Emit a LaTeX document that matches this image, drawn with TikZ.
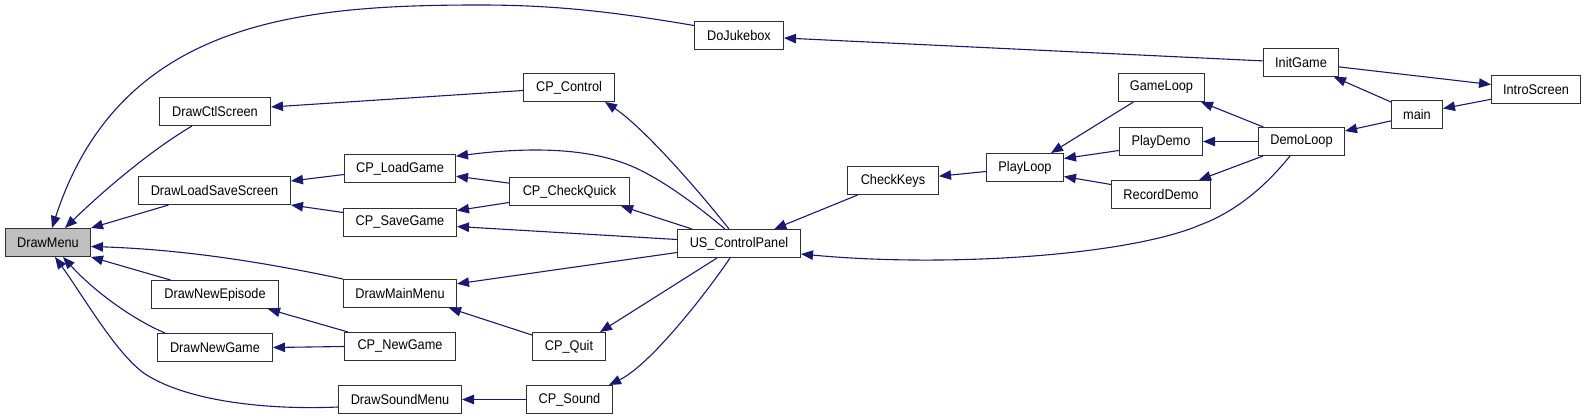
\documentclass[tikz,border=0pt]{standalone}
\usepackage{fontspec}
\setmainfont[FakeStretch=0.91]{Liberation Sans}
\usetikzlibrary{arrows.meta}
\definecolor{edgeblue}{HTML}{191970}
\definecolor{boxline}{HTML}{303030}
\definecolor{hilite}{HTML}{BFBFBF}
\tikzset{
  fnbox/.style={draw=boxline, fill=white, line width=1pt, inner sep=0pt,
    minimum height=28pt, font=\fontsize{14}{16}\selectfont},
  fnhl/.style={fnbox, fill=hilite},
  edge/.style={draw=edgeblue, line width=1.1pt,
    -{Triangle[length=12pt,width=9.5pt]}},
}
\begin{document}
\begin{tikzpicture}[x=1pt,y=-1pt]
\useasboundingbox (0,0) rectangle (1587,420);
% nodes
\node[fnhl, minimum width=85pt] (DrawMenu) at (48,242.5) {DrawMenu};
\node[fnbox, minimum width=111pt] (DrawCtlScreen) at (215,111.5) {DrawCtlScreen};
\node[fnbox, minimum width=152pt] (DrawLoadSaveScreen) at (214.5,190.5) {DrawLoadSaveScreen};
\node[fnbox, minimum width=127pt] (DrawNewEpisode) at (215,294.5) {DrawNewEpisode};
\node[fnbox, minimum width=115pt] (DrawNewGame) at (215,347.5) {DrawNewGame};
\node[fnbox, minimum width=111pt] (CP_LoadGame) at (400,168.5) {CP\_LoadGame};
\node[fnbox, minimum width=113pt] (CP_SaveGame) at (400,222.5) {CP\_SaveGame};
\node[fnbox, minimum width=113pt] (DrawMainMenu) at (400,293.5) {DrawMainMenu};
\node[fnbox, minimum width=111pt] (CP_NewGame) at (400,346.5) {CP\_NewGame};
\node[fnbox, minimum width=123pt] (DrawSoundMenu) at (400,399.5) {DrawSoundMenu};
\node[fnbox, minimum width=89pt] (DoJukebox) at (739,35.5) {DoJukebox};
\node[fnbox, minimum width=91pt] (CP_Control) at (569,87.5) {CP\_Control};
\node[fnbox, minimum width=120pt] (CP_CheckQuick) at (569.5,191.5) {CP\_CheckQuick};
\node[fnbox, minimum width=73pt] (CP_Quit) at (569,346.5) {CP\_Quit};
\node[fnbox, minimum width=86pt] (CP_Sound) at (569.5,399.5) {CP\_Sound};
\node[fnbox, minimum width=123pt] (US_ControlPanel) at (739,243.5) {US\_ControlPanel};
\node[fnbox, minimum width=91pt] (CheckKeys) at (893,180.5) {CheckKeys};
\node[fnbox, minimum width=77pt] (PlayLoop) at (1025,167.5) {PlayLoop};
\node[fnbox, minimum width=86pt] (GameLoop) at (1161.5,87.5) {GameLoop};
\node[fnbox, minimum width=83pt] (PlayDemo) at (1161,141.5) {PlayDemo};
\node[fnbox, minimum width=99pt] (RecordDemo) at (1161,194.5) {RecordDemo};
\node[fnbox, minimum width=86pt] (DemoLoop) at (1301.5,141.5) {DemoLoop};
\node[fnbox, minimum width=75pt] (InitGame) at (1301,62.5) {InitGame};
\node[fnbox, minimum width=51pt] (main) at (1417,114.5) {main};
\node[fnbox, minimum width=89pt] (IntroScreen) at (1536,89.5) {IntroScreen};
% edges into DrawMenu
\draw[edge] ([yshift=10pt]DoJukebox.west) .. controls (620,13) and (560,5) .. (480,5)
  .. controls (300,5) and (120,20) .. ([xshift=4pt]DrawMenu.north);
\draw[edge] ([xshift=-23pt]DrawCtlScreen.south) .. controls (148,152) and (100,194) .. ([xshift=17pt]DrawMenu.north);
\draw[edge] ([xshift=-46pt]DrawLoadSaveScreen.south) -- (DrawMenu.north east);
\draw[edge] (DrawMainMenu.north west) .. controls (290,268) and (200,250) .. ([yshift=-4pt]DrawMenu.east);
\draw[edge] ([xshift=-44.5pt]DrawNewEpisode.north) -- (DrawMenu.south east);
\draw[edge] ([xshift=-50pt]DrawNewGame.north) .. controls (130,318) and (92.7,289.7) .. ([xshift=15pt]DrawMenu.south);
\draw[edge] ([yshift=-7.5pt]DrawSoundMenu.west) .. controls (270,410) and (190,402) .. (146.7,375)
  .. controls (118,357) and (82.6,295) .. ([xshift=7pt]DrawMenu.south);
% second column
\draw[edge] ([yshift=-3pt]CP_Control.west) -- ([yshift=4.5pt]DrawCtlScreen.east);
\draw[edge] ([yshift=-6pt]CP_LoadGame.west) -- ([yshift=9.5pt]DrawLoadSaveScreen.east);
\draw[edge] ([yshift=10pt]CP_SaveGame.west) -- (DrawLoadSaveScreen.south east);
\draw[edge] ([yshift=8.4pt]CP_CheckQuick.west) -- ([yshift=-7.7pt]CP_LoadGame.east);
\draw[edge] ([yshift=-11pt]CP_CheckQuick.west) -- ([yshift=12pt]CP_SaveGame.east);
\draw[edge] ([xshift=4pt]CP_NewGame.north west) -- ([xshift=-11pt]DrawNewEpisode.south east);
\draw[edge] (CP_NewGame.west) -- (DrawNewGame.east);
\draw[edge] ([yshift=-3pt]CP_Quit.north west) -- ([xshift=-8pt]DrawMainMenu.south east);
\draw[edge] (CP_Sound.west) -- (DrawSoundMenu.east);
% from US_ControlPanel
\draw[edge] ([xshift=-14pt]US_ControlPanel.north) .. controls (700,208) and (670,185) .. (640,170)
  .. controls (590,145) and (520,148) .. ([yshift=12.3pt]CP_LoadGame.east);
\draw[edge] ([yshift=4pt]US_ControlPanel.west) -- ([yshift=-4pt]CP_SaveGame.east);
\draw[edge] ([yshift=-9pt]US_ControlPanel.west) -- ([yshift=9.7pt]DrawMainMenu.east);
\draw[edge] ([xshift=-10pt]US_ControlPanel.north) .. controls (690,180) and (640,125) .. ([xshift=-10pt]CP_Control.south east);
\draw[edge] ([xshift=-47pt]US_ControlPanel.north) -- ([xshift=-9pt]CP_CheckQuick.south east);
\draw[edge] ([xshift=-22pt]US_ControlPanel.south) -- ([xshift=-6pt]CP_Quit.north east);
\draw[edge] ([xshift=-9pt]US_ControlPanel.south) .. controls (705,295) and (650,365) .. ([xshift=-4pt]CP_Sound.north east);
% right part
\draw[edge] ([xshift=10.6pt]CheckKeys.south west) -- ([xshift=-26.7pt]US_ControlPanel.north east);
\draw[edge] ([xshift=-11.5pt]DemoLoop.south) .. controls (1265,187) and (1235,212) .. (1200,225)
  .. controls (1130,255) and (950,268) .. ([yshift=-10.5pt]US_ControlPanel.east);
\draw[edge] ([yshift=-4pt]PlayLoop.west) -- ([yshift=4.3pt]CheckKeys.east);
\draw[edge] ([xshift=15.4pt]GameLoop.south west) -- ([xshift=-13pt]PlayLoop.north east);
\draw[edge] ([yshift=-9pt]PlayDemo.west) -- ([yshift=9pt]PlayLoop.east);
\draw[edge] ([yshift=10pt]RecordDemo.west) -- ([yshift=-9pt]PlayLoop.east);
\draw[edge] ([xshift=5.3pt]DemoLoop.north west) -- ([xshift=-4pt]GameLoop.south east);
\draw[edge] (DemoLoop.west) -- (PlayDemo.east);
\draw[edge] ([xshift=5pt]DemoLoop.south west) -- ([xshift=-12pt]RecordDemo.north east);
\draw[edge] ([yshift=1.6pt]InitGame.west) -- ([yshift=-2.5pt]DoJukebox.east);
\draw[edge] ([yshift=-2pt]main.north west) -- ([xshift=-5pt]InitGame.south east);
\draw[edge] ([yshift=-6.4pt]main.west) -- ([yshift=-4pt]DemoLoop.north east);
\draw[edge] ([yshift=-4.4pt]InitGame.east) -- ([yshift=5pt]IntroScreen.west);
\draw[edge] ([yshift=-9.8pt]IntroScreen.west) -- ([yshift=6pt]main.east);
\end{tikzpicture}
\end{document}
